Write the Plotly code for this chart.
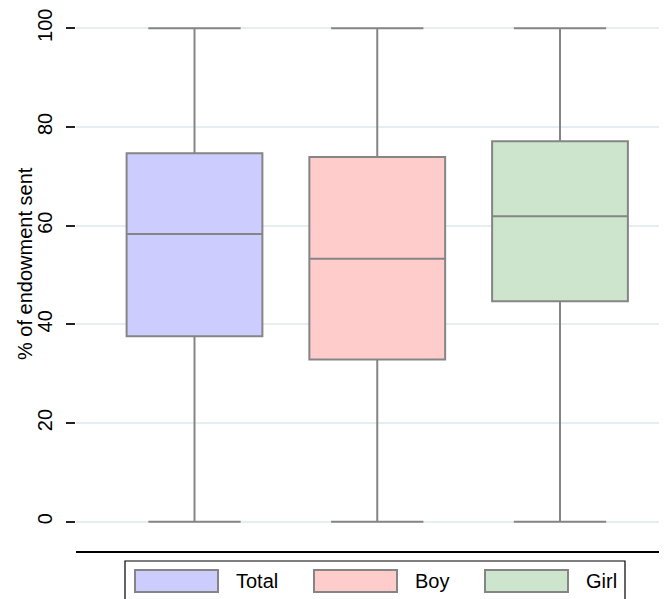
import plotly.graph_objects as go

# ---- data ----
groups = ["Total", "Boy", "Girl"]
lower_whisker = [0, 0, 0]
q1 = [37.6, 32.9, 44.7]
median = [58.3, 53.3, 61.9]
q3 = [74.7, 73.9, 77.1]
upper_whisker = [100, 100, 100]
y_ticks = [0, 20, 40, 60, 80, 100]

# ---- styles ----
fills = ["#ccccff", "#ffcccc", "#cde5cc"]
edge = "#858585"
FONT = "Liberation Sans, Arial, Helvetica, sans-serif"

# page is offset by the 8px body margin
OFF = 8
W, H = 667 - OFF, 599 - OFF
PX_L, PX_R, PX_T, PX_B = 76, 667, 8, 551   # plot area in page pixels
L, R, T, B = PX_L - OFF, 0, PX_T - OFF, H - (PX_B - OFF)
pw, ph = PX_R - PX_L, PX_B - PX_T


def px_x(p):
    return (p - PX_L) / pw


def px_y(p):
    return (PX_B - p) / ph


fig = go.Figure()
for i, g in enumerate(groups):
    fig.add_trace(go.Box(
        name=g,
        x=[i + 1],
        q1=[q1[i]], median=[median[i]], q3=[q3[i]],
        lowerfence=[lower_whisker[i]], upperfence=[upper_whisker[i]],
        fillcolor=fills[i],
        line=dict(color=edge, width=2),
        width=0.743,
        whiskerwidth=0.68,
        boxpoints=False,
        showlegend=False,
        hoverinfo="skip",
    ))

# ---- custom legend (Stata style) ----
shapes = [dict(type="rect", xref="paper", yref="paper",
               x0=px_x(125), x1=px_x(625), y0=px_y(640), y1=px_y(561),
               line=dict(color="black", width=1.2), fillcolor="rgba(0,0,0,0)", layer="above")]
annotations = []
sw_left = [135, 314, 485]
for i, g in enumerate(groups):
    x0 = sw_left[i]
    shapes.append(dict(type="rect", xref="paper", yref="paper",
                       x0=px_x(x0), x1=px_x(x0 + 83), y0=px_y(592), y1=px_y(570),
                       line=dict(color=edge, width=2), fillcolor=fills[i], layer="above"))
    annotations.append(dict(xref="paper", yref="paper", x=px_x(x0 + 99), y=px_y(581),
                            text=g, showarrow=False, xanchor="left", yanchor="middle",
                            font=dict(family=FONT, size=20, color="black")))

# y-axis title as rotated text
annotations.append(dict(xref="paper", yref="paper", x=px_x(25), y=px_y(264),
                        text="% of endowment sent", textangle=-90, showarrow=False,
                        xanchor="center", yanchor="middle",
                        font=dict(family=FONT, size=20, color="black")))

ppu = 4.937
y_lo = -(PX_B - 521.7) / ppu
y_hi = 100 + (28.3 - PX_T) / ppu

fig.update_layout(
    width=W, height=H,
    margin=dict(l=L, r=R, t=T, b=B, pad=0),
    paper_bgcolor="white", plot_bgcolor="white",
    font=dict(family=FONT, size=20, color="black"),
    shapes=shapes,
    annotations=annotations,
    showlegend=False,
    xaxis=dict(range=[0.3516, 3.5855], showgrid=False, zeroline=False,
               showticklabels=False, ticks="", showline=True,
               linecolor="black", linewidth=1.5, fixedrange=True),
    yaxis=dict(range=[y_lo, y_hi], tickvals=y_ticks,
               ticktext=[str(v) for v in y_ticks],
               tickangle=-90, ticks="outside", ticklen=9, tickwidth=1.5,
               tickcolor="#222222", ticklabelstandoff=6,
               showgrid=True, gridcolor="#e6eef0", gridwidth=1.5,
               zeroline=False, showline=False,
               tickfont=dict(family=FONT, size=20),
               automargin=False, fixedrange=True),
)

fig.write_html("out.html")
